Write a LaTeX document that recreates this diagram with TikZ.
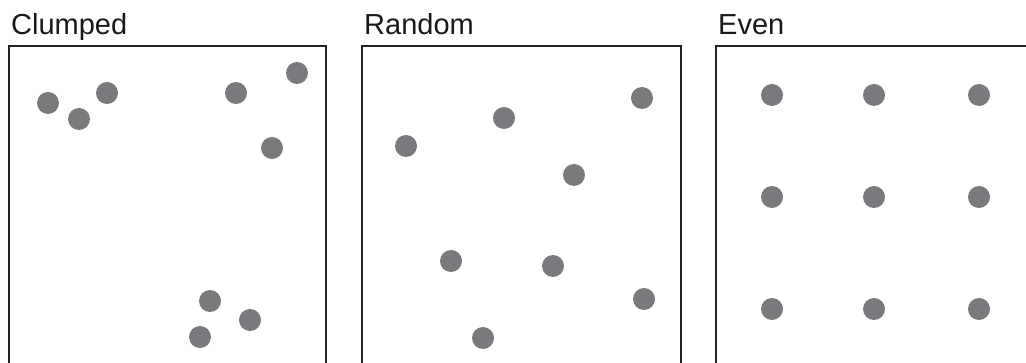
\documentclass[tikz,border=0pt]{standalone}
\usepackage{fontspec}
\setmainfont{Liberation Sans}
\begin{document}
\begin{tikzpicture}[x=1pt,y=-1pt,
  dot/.style={circle,fill=dotgray,draw=none,minimum size=22pt,inner sep=0pt},
  panel/.style={draw=boxline,line width=2pt},
  lbl/.style={anchor=base west,inner sep=0pt,font=\fontsize{29}{32}\selectfont,text=black!90}]
\definecolor{dotgray}{HTML}{7A7A7E}
\definecolor{boxline}{HTML}{222222}
\useasboundingbox (0,0) rectangle (1026,363);
\clip (0,0) rectangle (1026,363);
% panels
\draw[panel] (9,400) -- (9,46) -- (326,46) -- (326,400);
\draw[panel] (362,400) -- (362,46) -- (681,46) -- (681,400);
\draw[panel] (716,400) -- (716,46) -- (1040,46);
% labels
\node[lbl] (lc) at (11,35) {Clumped};
\node[lbl] (lr) at (364,35) {Random};
\node[lbl] (le) at (718,35) {Even};
% clumped
\node[dot] (c1) at (48,103) {};
\node[dot] (c2) at (79,119) {};
\node[dot] (c3) at (107,93) {};
\node[dot] (c4) at (236,93) {};
\node[dot] (c5) at (297,73) {};
\node[dot] (c6) at (272,148) {};
\node[dot] (c7) at (210,301) {};
\node[dot] (c8) at (250,320) {};
\node[dot] (c9) at (200,337) {};
% random
\node[dot] (r1) at (406,146) {};
\node[dot] (r2) at (504,118) {};
\node[dot] (r3) at (642,98) {};
\node[dot] (r4) at (574,175) {};
\node[dot] (r5) at (451,261) {};
\node[dot] (r6) at (553,266) {};
\node[dot] (r7) at (644,299) {};
\node[dot] (r8) at (483,338) {};
% even
\foreach \x [count=\i] in {772,874,979}{
  \foreach \y [count=\j] in {95,197,309}{
    \node[dot] (e\i\j) at (\x,\y) {};
  }
}
\end{tikzpicture}
\end{document}
